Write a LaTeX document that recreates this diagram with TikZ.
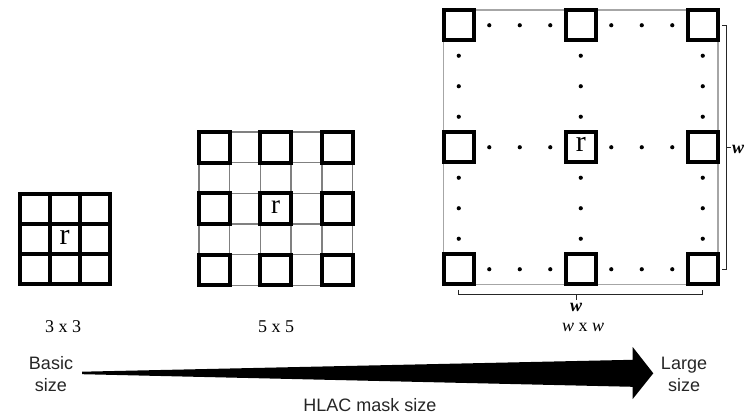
\documentclass[tikz,border=0pt]{standalone}
\usepackage{fontspec}
\setmainfont{Liberation Serif}
\newfontfamily\lsans{Liberation Sans}
\begin{document}
\begin{tikzpicture}[x=1pt,y=-1pt,
  thickbox/.style={line width=4pt, draw=black, line join=miter},
  thingray/.style={line width=1.4pt, draw=black!50},
  outlinegray/.style={line width=1.3pt, draw=black!35},
  brack/.style={line width=1pt, draw=black!85},
  dotmark/.style={fill=black},
  serlabel/.style={font=\fontsize{18}{20}\selectfont, inner sep=0pt},
  sanslabel/.style={font=\lsans\fontsize{18}{22}\selectfont, inner sep=0pt, align=center, text=black!85},
  rlabel/.style={inner sep=0pt}]
\useasboundingbox (0,0) rectangle (749,419);

% ---- 3 x 3 ----
\foreach \i in {0,1,2}{
  \foreach \j in {0,1,2}{
    \draw[thickbox] ({19.5+30*\i},{194+30*\j}) rectangle ({49.5+30*\i},{224+30*\j});
  }
}
\node[rlabel, font=\fontsize{30}{30}\selectfont] (r1) at (64.5,237) {r};
\node[serlabel] (l3) at (63,327) {3 x 3};

% ---- 5 x 5 ----
\foreach \k in {0,...,5}{
  \draw[thingray] ({199+30.7*\k},132) -- ({199+30.7*\k},285.5);
  \draw[thingray] (199,{132+30.7*\k}) -- (352.5,{132+30.7*\k});
}
\foreach \i in {0,2,4}{
  \foreach \j in {0,2,4}{
    \draw[thickbox] ({199+30.7*\i},{132+30.7*\j}) rectangle ({229.7+30.7*\i},{162.7+30.7*\j});
  }
}
\node[rlabel, font=\fontsize{27}{27}\selectfont] (r2) at (275.7,207) {r};
\node[serlabel] (l5) at (276,327) {5 x 5};

% ---- w x w ----
\draw[outlinegray] (443.5,10) rectangle (718,284.5);
\foreach \i in {0,4,8}{
  \foreach \j in {0,4,8}{
    \draw[thickbox,fill=white] ({443.5+30.5*\i},{10+30.5*\j}) rectangle ({474+30.5*\i},{40.5+30.5*\j});
  }
}
\foreach \a in {0,4,8}{
  \foreach \k in {1,2,3,5,6,7}{
    \fill[dotmark] ({458.75+30.5*\k},{25.25+30.5*\a}) circle (2.1);
    \fill[dotmark] ({458.75+30.5*\a},{25.25+30.5*\k}) circle (2.1);
  }
}
\node[rlabel, font=\fontsize{30}{30}\selectfont] (r3) at (580.75,144) {r};

% brackets
\coordinate (rb1) at (722,25.25);
\coordinate (rb2) at (726.5,25.25);
\coordinate (rb3) at (726.5,269.25);
\coordinate (rb4) at (722,269.25);
\coordinate (rbm) at (726.5,147.25);
\coordinate (rbt) at (730.5,147.25);
\draw[brack] (rb1) -- (rb2) -- (rb3) -- (rb4);
\draw[brack] (rbm) -- (rbt);
\node[serlabel, font=\fontsize{18}{20}\selectfont\bfseries\itshape, anchor=west] (wr) at (732,149) {w};

\coordinate (bb1) at (458.75,290);
\coordinate (bb2) at (458.75,294.3);
\coordinate (bb3) at (702.75,294.3);
\coordinate (bb4) at (702.75,290);
\coordinate (bbm) at (576,294.3);
\coordinate (bbt) at (576,300);
\draw[brack] (bb1) -- (bb2) -- (bb3) -- (bb4);
\draw[brack] (bbm) -- (bbt);
\node[serlabel, font=\fontsize{18}{20}\selectfont\bfseries\itshape] (wb) at (576,307) {w};
\node[serlabel] (lw) at (583,327) {\textit{w} x \textit{w}};

% ---- arrow ----
\node[sanslabel] (basic) at (51,374) {Basic\\size};
\node[sanslabel] (large) at (684,374) {Large\\size};
\node[sanslabel] (hlac) at (370,405) {HLAC mask size};
\fill[black] (82,371.7) -- (632.7,359.8) -- (632.7,347) -- (653.3,373.3) -- (632.7,399) -- (632.7,386.8) -- (82,374.2) -- cycle;
\end{tikzpicture}
\end{document}
